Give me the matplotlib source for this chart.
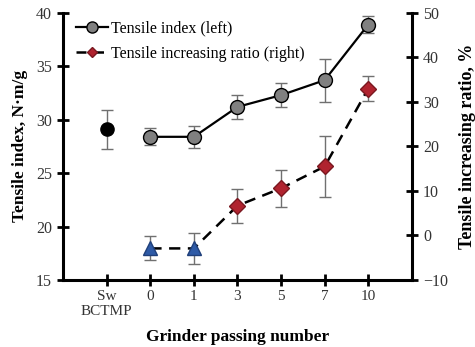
import matplotlib
matplotlib.use("Agg")
import matplotlib.pyplot as plt
from matplotlib.lines import Line2D

plt.rcParams['font.family'] = ['Liberation Serif', 'DejaVu Serif']

categories = ["Sw\nBCTMP", "0", "1", "3", "5", "7", "10"]
# Tensile index (left axis)
ti_ref = 29.1
ti_ref_err = 1.8
ti_vals = [28.4, 28.4, 31.2, 32.3, 33.7, 38.9]
ti_err = [0.8, 1.0, 1.1, 1.1, 2.0, 0.8]
# Tensile increasing ratio (right axis)
ratio_vals = [-2.9, -2.9, 6.7, 10.6, 15.5, 33.0]
ratio_err = [2.7, 3.5, 3.8, 4.2, 6.9, 2.8]

fig = plt.figure(figsize=(4.75, 3.47), dpi=100)
ax = fig.add_axes([0.133, 0.193, 0.734, 0.77])
ax2 = ax.twinx()

xs = list(range(1, len(categories)))
ecol = '#707070'

# left series
ax.errorbar([0], [ti_ref], yerr=[ti_ref_err], fmt='o', color='black', ms=9.5,
            mfc='black', mec='black', ecolor=ecol, elinewidth=1, capsize=4, zorder=3)
ax.errorbar(xs, ti_vals, yerr=ti_err, fmt='-o', color='black', lw=1.6, ms=10,
            mfc='#808080', mec='black', mew=1.0, ecolor=ecol, elinewidth=1, capsize=4, zorder=3)

# right series
ax2.errorbar(xs, ratio_vals, yerr=ratio_err, fmt='none', ecolor=ecol, elinewidth=1, capsize=4, zorder=2)
ax2.plot(xs, ratio_vals, ls=(0, (4.5, 3)), color='black', lw=1.8, zorder=3)
ax2.plot(xs[:2], ratio_vals[:2], ls='none', marker='^', ms=10, mfc='#2E5AA6', mec='#1F3F7A', zorder=4)
ax2.plot(xs[2:], ratio_vals[2:], ls='none', marker='D', ms=8, mfc='#B0232F', mec='#7A1820', zorder=4)

ax.set_xlim(-1, 7)
ax.set_ylim(15, 40)
ax2.set_ylim(-10, 50)
ax.set_xticks(range(len(categories)))
ax.set_xticklabels(categories, linespacing=1.15)
ax.set_yticks([15, 20, 25, 30, 35, 40])
ax2.set_yticks([-10, 0, 10, 20, 30, 40, 50])

for a in (ax, ax2):
    a.spines['top'].set_visible(False)
    for s in ('left', 'right', 'bottom'):
        a.spines[s].set_linewidth(2.2)
    a.tick_params(direction='inout', length=9, width=2, labelsize=11.5, labelcolor='#333333')
ax.spines['right'].set_visible(False)
ax2.spines['left'].set_visible(False)
ax2.spines['bottom'].set_visible(False)
ax.tick_params(axis='x', pad=3, labelsize=11)

ax.set_ylabel("Tensile index, N\u00b7m/g", fontsize=12.5, fontweight='bold', labelpad=6)
ax2.set_ylabel("Tensile increasing ratio, %", fontsize=13, fontweight='bold', labelpad=8)
ax.set_xlabel("Grinder passing number", fontsize=12.5, fontweight='bold', labelpad=8)

h1 = Line2D([], [], color='black', lw=1.6, marker='o', ms=8, mfc='#808080', mec='black')
h2 = Line2D([], [], color='black', lw=1.8, ls=(0, (4, 3)), marker='D', ms=5, mfc='#B0232F', mec='#7A1820')
ax.legend([h1, h2], ["Tensile index (left)", "Tensile increasing ratio (right)"],
          loc='upper left', bbox_to_anchor=(0.0, 1.02), frameon=False, fontsize=11.5,
          handlelength=2.0, handletextpad=0.2, labelspacing=0.6, borderaxespad=0.4)

fig.savefig("out.png", dpi=100)
